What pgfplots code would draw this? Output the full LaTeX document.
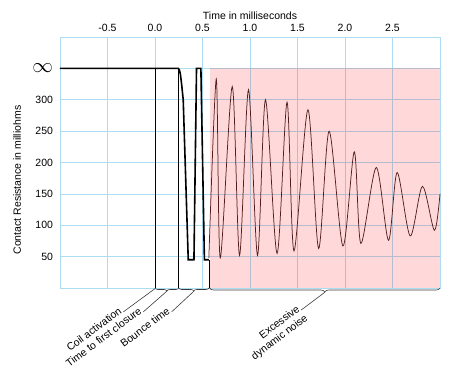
\documentclass[border=0pt]{standalone}
\usepackage{pgfplots}
\pgfplotsset{compat=1.18}
\usepackage{fontspec}
\setmainfont{Liberation Sans}
\usetikzlibrary{decorations.pathreplacing}
\definecolor{gridblue}{RGB}{172,220,242}
\definecolor{osc}{RGB}{85,30,30}
\definecolor{annot}{RGB}{60,60,60}
\tikzset{annotext/.style={rotate=37, inner sep=1bp, text=black, font=\fontsize{10.5bp}{12.6bp}\selectfont}}
\begin{document}
\begin{tikzpicture}
\path[use as bounding box] (-60bp,-89bp) rectangle (400bp,288bp);
\begin{axis}[
  at={(0,0)}, anchor=south west,
  width=380bp, height=251bp, scale only axis,
  xmin=-1, xmax=3, ymin=0, ymax=400,
  xtick={-0.5,0,0.5,1,1.5,2,2.5},
  xticklabels={-0.5,0.0,0.5,1.0,1.5,2.0,2.5},
  ytick={50,100,150,200,250,300,350},
  yticklabels={50,100,150,200,250,300,{\fontsize{19bp}{19bp}\selectfont$\infty$}},
  xticklabel pos=upper,
  grid=major,
  major grid style={gridblue, line width=0.6bp},
  axis line style={gridblue, line width=0.6bp},
  major tick length=0pt,
  clip=false,
  /pgf/number format/assume math mode=true,
  tick label style={font=\fontsize{10.5bp}{12.6bp}\selectfont},
  xticklabel style={yshift=1.5bp},
  yticklabel style={xshift=-3.5bp},
  label style={font=\fontsize{10.5bp}{12.6bp}\selectfont},
  xlabel={Time in milliseconds},
  ylabel={Contact Resistance in milliohms},
  xlabel style={at={(axis description cs:0.5,1.084)}, anchor=center},
  ylabel style={at={(axis description cs:-0.113,0.43)}, anchor=center},
]
% excessive noise region
\addplot[draw=none, fill=red, fill opacity=0.15] coordinates {(0.575,350) (3,350)} \closedcycle;

% marker lines
\addplot[black, line width=0.6bp] coordinates {(0,0) (0,350)};
\addplot[black, line width=0.6bp] coordinates {(0.25,0) (0.25,350)};
\addplot[black, line width=0.6bp] coordinates {(0.567,0) (0.567,45)};

% contact trace
\addplot[black, line width=1.6bp] coordinates {
  (-1,350) (0.245,350) (0.258,347) (0.268,340) (0.28,325) (0.297,300)
  (0.35,45) (0.41,45) (0.437,350) (0.483,350) (0.52,45) (0.567,45)
};

% dynamic noise oscillation
\addplot[osc, line width=0.75bp, smooth] coordinates {
  (0.567,48) (0.645,333) (0.687,48) (0.813,321) (0.890,52) (0.984,316)
  (1.079,52) (1.163,300) (1.285,55) (1.390,296) (1.463,59) (1.610,284)
  (1.722,63) (1.833,250) (1.978,67) (2.098,217) (2.167,71) (2.329,192)
  (2.458,76) (2.549,184) (2.686,83) (2.815,162) (2.941,92) (3.0,150)
};

% braces and annotations
\draw[annot, line width=0.6bp, decorate, decoration={brace, mirror, amplitude=3bp}]
  (axis cs:0,0) -- (axis cs:0.25,0);
\draw[annot, line width=0.6bp, decorate, decoration={brace, mirror, amplitude=3bp}]
  (axis cs:0.25,0) -- (axis cs:0.567,0);
\draw[annot, line width=0.6bp, decorate, decoration={brace, mirror, amplitude=4bp}]
  (axis cs:0.575,0) -- (axis cs:3,0);

\draw[annot, line width=0.6bp] (axis cs:0,-1) -- (axis cs:-0.333,-38)
  node[annotext, anchor=base east] {Coil activation};
\draw[annot, line width=0.6bp] (axis cs:0.125,-5) -- (axis cs:-0.123,-38)
  node[annotext, anchor=base east] {Time to first closure};
\draw[annot, line width=0.6bp] (axis cs:0.41,-5) -- (axis cs:0.175,-38)
  node[annotext, anchor=base east] {Bounce time};
\draw[annot, line width=0.6bp] (axis cs:1.79,-6.5) -- (axis cs:1.54,-35)
  node[annotext, anchor=base east] (exc) {Excessive};
\node[annotext, anchor=base east] at ([shift={(8bp,-9bp)}]exc.base east) {dynamic noise};
\end{axis}
\end{tikzpicture}
\end{document}
